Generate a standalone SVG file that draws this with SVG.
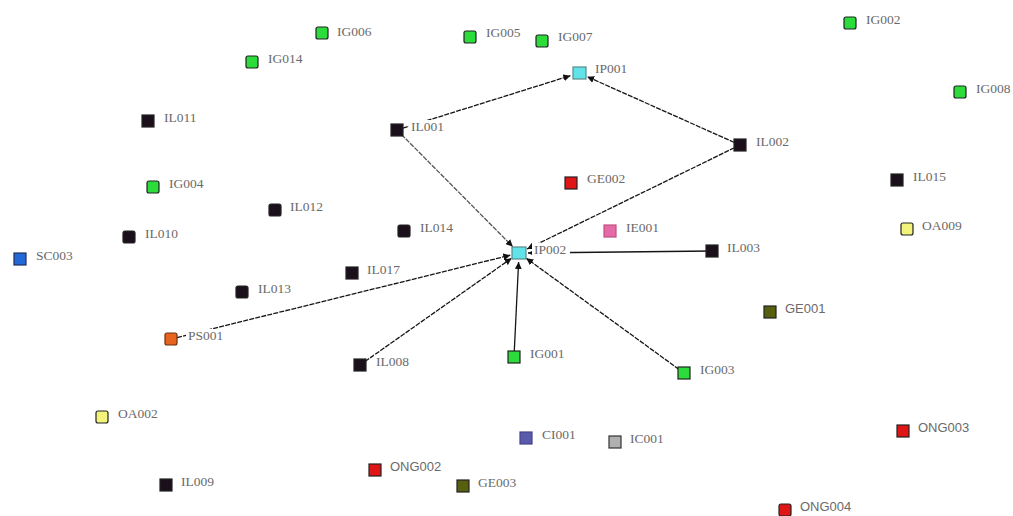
<svg xmlns="http://www.w3.org/2000/svg" width="1013" height="516" viewBox="0 0 1013 516">
<defs>
<marker id="arr" viewBox="0 0 10 10" refX="10" refY="5" markerWidth="7" markerHeight="7" orient="auto" markerUnits="userSpaceOnUse">
<path d="M0,0 L10,5 L0,10 z" fill="#111"/>
</marker>
<style>
.e{stroke:#151515;stroke-width:1.3;fill:none;stroke-dasharray:5 1.2;marker-end:url(#arr)}
.n{stroke:#222;stroke-width:1.2}
.lb{fill:#fff}
.t{font-family:"Liberation Serif",serif;font-size:13.5px;fill:#6a6a6a}
.s{font-family:"Liberation Sans",sans-serif;font-size:13px;fill:#6a6a6a}
.IL{fill:#1b0f1c}
.IG{fill:#2bdc3a}
.IP{fill:#62e3ea;stroke:#5a8a8c}
.RD{fill:#e01515}
.OA{fill:#f3f27a}
.GE{fill:#58600f}
.SC{fill:#2268d6;stroke:#203060}
.PS{fill:#e8641e;stroke:#6a3010}
.IE{fill:#e46aa8;stroke:#c05080}
.CI{fill:#5a5aad;stroke:#444488}
.IC{fill:#b0b0b0;stroke:#333}
</style>
</defs>
<rect width="1013" height="516" fill="#fff"/>
<g id="edges">
<line class="e" x1="397" y1="130" x2="570.4" y2="75.7"/>
<line class="e" x1="740" y1="145" x2="587.2" y2="76.7"/>
<line class="e" x1="397" y1="130" x2="512.7" y2="246.6" style="stroke:#555"/>
<line class="e" x1="740" y1="145" x2="527.1" y2="249"/>
<line class="e" x1="712" y1="251" x2="528" y2="253" style="stroke-dasharray:none"/>
<line class="e" x1="171" y1="339" x2="510.3" y2="255.2"/>
<line class="e" x1="360" y1="365" x2="511.6" y2="258.2"/>
<line class="e" x1="514" y1="357" x2="518.6" y2="262" style="stroke-dasharray:none"/>
<line class="e" x1="684" y1="373" x2="526.3" y2="258.3"/>
</g>
<g id="IG006"><rect class="n IG" x="316" y="27" width="12" height="12" rx="2"/><rect class="lb" x="335" y="25" width="40" height="14"/><text class="t" x="337" y="36">IG006</text></g>
<g id="IG005"><rect class="n IG" x="464" y="31" width="12" height="12" rx="2"/><rect class="lb" x="484" y="26" width="40" height="14"/><text class="t" x="486" y="37">IG005</text></g>
<g id="IG007"><rect class="n IG" x="536" y="35" width="12" height="12" rx="2"/><rect class="lb" x="556" y="30" width="40" height="14"/><text class="t" x="558" y="41">IG007</text></g>
<g id="IG002"><rect class="n IG" x="844" y="17" width="12" height="12" rx="2"/><rect class="lb" x="864" y="13" width="40" height="14"/><text class="t" x="866" y="24">IG002</text></g>
<g id="IG014"><rect class="n IG" x="246" y="56" width="12" height="12" rx="2"/><rect class="lb" x="266" y="52" width="40" height="14"/><text class="t" x="268" y="63">IG014</text></g>
<g id="IP001"><rect class="n IP" x="573" y="67" width="13" height="12"/><rect class="lb" x="593" y="62" width="40" height="14"/><text class="t" x="595" y="73">IP001</text></g>
<g id="IG008"><rect class="n IG" x="954" y="86" width="12" height="12" rx="2"/><rect class="lb" x="974" y="82" width="40" height="14"/><text class="t" x="976" y="93">IG008</text></g>
<g id="IL011"><rect class="n IL" x="142" y="115" width="12" height="12"/><rect class="lb" x="162" y="111" width="40" height="14"/><text class="t" x="164" y="122">IL011</text></g>
<g id="IL001"><rect class="n IL" x="391" y="124" width="12" height="12"/><rect class="lb" x="409" y="120" width="40" height="14"/><text class="t" x="411" y="131">IL001</text></g>
<g id="IL002"><rect class="n IL" x="734" y="139" width="12" height="12"/><rect class="lb" x="754" y="135" width="40" height="14"/><text class="t" x="756" y="146">IL002</text></g>
<g id="GE002"><rect class="n RD" x="565" y="177" width="12" height="12"/><rect class="lb" x="585" y="172" width="44" height="14"/><text class="t" x="587" y="183">GE002</text></g>
<g id="IL015"><rect class="n IL" x="891" y="174" width="12" height="12"/><rect class="lb" x="911" y="170" width="40" height="14"/><text class="t" x="913" y="181">IL015</text></g>
<g id="IG004"><rect class="n IG" x="147" y="181" width="12" height="12" rx="2"/><rect class="lb" x="167" y="177" width="40" height="14"/><text class="t" x="169" y="188">IG004</text></g>
<g id="IL012"><rect class="n IL" x="269" y="204" width="12" height="12" rx="2"/><rect class="lb" x="288" y="200" width="40" height="14"/><text class="t" x="290" y="211">IL012</text></g>
<g id="OA009"><rect class="n OA" x="901" y="223" width="12" height="12" rx="2"/><rect class="lb" x="920" y="219" width="46" height="14"/><text class="t" x="922" y="230">OA009</text></g>
<g id="IL014"><rect class="n IL" x="398" y="225" width="12" height="12" rx="2"/><rect class="lb" x="418" y="221" width="40" height="14"/><text class="t" x="420" y="232">IL014</text></g>
<g id="IE001"><rect class="n IE" x="604" y="225" width="12" height="12"/><rect class="lb" x="624" y="221" width="40" height="14"/><text class="t" x="626" y="232">IE001</text></g>
<g id="IL010"><rect class="n IL" x="123" y="231" width="12" height="12" rx="2"/><rect class="lb" x="143" y="227" width="40" height="14"/><text class="t" x="145" y="238">IL010</text></g>
<g id="IP002"><rect class="n IP" x="512" y="247" width="14" height="12"/><rect class="lb" x="532" y="243" width="38" height="14"/><text class="t" x="534" y="254">IP002</text></g>
<g id="IL003"><rect class="n IL" x="706" y="245" width="12" height="12"/><rect class="lb" x="725" y="241" width="40" height="14"/><text class="t" x="727" y="252">IL003</text></g>
<g id="SC003"><rect class="n SC" x="14" y="253" width="12" height="12"/><rect class="lb" x="34" y="249" width="42" height="14"/><text class="t" x="36" y="260">SC003</text></g>
<g id="IL017"><rect class="n IL" x="346" y="267" width="12" height="12"/><rect class="lb" x="365" y="263" width="40" height="14"/><text class="t" x="367" y="274">IL017</text></g>
<g id="IL013"><rect class="n IL" x="236" y="286" width="12" height="12" rx="2"/><rect class="lb" x="256" y="282" width="40" height="14"/><text class="t" x="258" y="293">IL013</text></g>
<g id="GE001"><rect class="n GE" x="764" y="306" width="12" height="12"/><rect class="lb" x="783" y="302" width="44" height="14"/><text class="s" x="785" y="313">GE001</text></g>
<g id="PS001"><rect class="n PS" x="165" y="333" width="12" height="12" rx="2"/><rect class="lb" x="186" y="329" width="40" height="14"/><text class="t" x="188" y="340">PS001</text></g>
<g id="IL008"><rect class="n IL" x="354" y="359" width="12" height="12"/><rect class="lb" x="374" y="355" width="40" height="14"/><text class="t" x="376" y="366">IL008</text></g>
<g id="IG001"><rect class="n IG" x="508" y="351" width="12" height="12"/><rect class="lb" x="528" y="347" width="40" height="14"/><text class="t" x="530" y="358">IG001</text></g>
<g id="IG003"><rect class="n IG" x="678" y="367" width="12" height="12"/><rect class="lb" x="698" y="363" width="40" height="14"/><text class="t" x="700" y="374">IG003</text></g>
<g id="OA002"><rect class="n OA" x="96" y="411" width="12" height="12" rx="2"/><rect class="lb" x="116" y="407" width="46" height="14"/><text class="t" x="118" y="418">OA002</text></g>
<g id="CI001"><rect class="n CI" x="520" y="432" width="12" height="12"/><rect class="lb" x="540" y="428" width="40" height="14"/><text class="t" x="542" y="439">CI001</text></g>
<g id="IC001"><rect class="n IC" x="609" y="436" width="12" height="12"/><rect class="lb" x="628" y="432" width="40" height="14"/><text class="t" x="630" y="443">IC001</text></g>
<g id="ONG003"><rect class="n RD" x="897" y="425" width="12" height="12"/><rect class="lb" x="916" y="421" width="54" height="14"/><text class="s" x="918" y="432">ONG003</text></g>
<g id="ONG002"><rect class="n RD" x="369" y="464" width="12" height="12"/><rect class="lb" x="388" y="460" width="54" height="14"/><text class="s" x="390" y="471">ONG002</text></g>
<g id="GE003"><rect class="n GE" x="457" y="480" width="12" height="12"/><rect class="lb" x="476" y="476" width="44" height="14"/><text class="t" x="478" y="487">GE003</text></g>
<g id="IL009"><rect class="n IL" x="160" y="479" width="12" height="12"/><rect class="lb" x="179" y="475" width="40" height="14"/><text class="t" x="181" y="486">IL009</text></g>
<g id="ONG004"><rect class="n RD" x="779" y="504" width="12" height="12" rx="2"/><rect class="lb" x="798" y="500" width="54" height="14"/><text class="s" x="800" y="511">ONG004</text></g>
</svg>
